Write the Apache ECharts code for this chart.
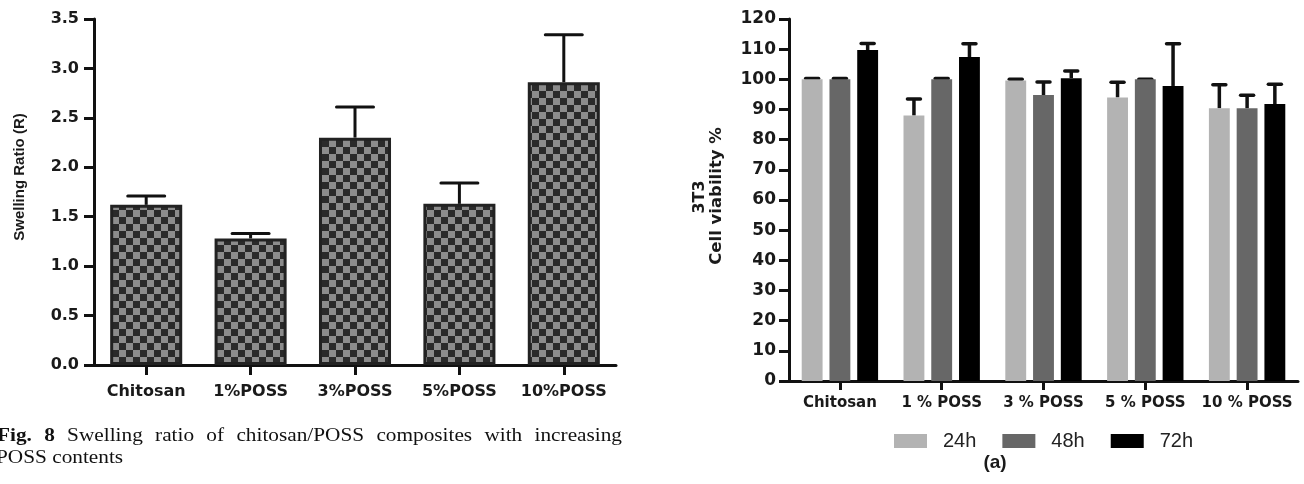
<!DOCTYPE html>
<html><head><meta charset="utf-8">
<script src="https://cdn.jsdelivr.net/npm/echarts@6/dist/echarts.min.js"></script>
<style>html,body{margin:0;padding:0;background:#fff}#c{width:1304px;height:484px}</style>
</head><body><div id="c"></div>
<script>
// ---- Left chart: swelling ratio ----
const swellCategories = ['Chitosan', '1%POSS', '3%POSS', '5%POSS', '10%POSS'];
const swellValues = [1.62, 1.28, 2.30, 1.63, 2.86];
const swellErrors = [0.09, 0.05, 0.31, 0.21, 0.48];
const swellTicks = ['0.0', '0.5', '1.0', '1.5', '2.0', '2.5', '3.0', '3.5'];

// ---- Right chart: 3T3 cell viability ----
const viabCategories = ['Chitosan', '1 % POSS', '3 % POSS', '5 % POSS', '10 % POSS'];
const viabSeriesNames = ['24h', '48h', '72h'];
const viab24 = [100, 88.0, 99.6, 94.0, 90.4];
const viab48 = [100, 100, 94.8, 100, 90.4];
const viab72 = [109.7, 107.4, 100.4, 97.8, 91.8];
const err24 = [0.3, 5.5, 0.4, 5.0, 7.8];
const err48 = [0.3, 0.3, 4.3, 0, 4.3];
const err72 = [2.2, 4.4, 2.4, 14.0, 6.6];
const viabTicks = ['0', '10', '20', '30', '40', '50', '60', '70', '80', '90', '100', '110', '120'];

const captionLine1 = [['Fig.', true], ['8', true], ['Swelling', false], ['ratio', false], ['of', false],
  ['chitosan/POSS', false], ['composites', false], ['with', false], ['increasing', false]];
const captionLine2 = 'POSS contents';

const viabColors = ['#b3b3b3', '#676767', '#000000'];
const INK = '#1a1a1a';
const TICKFONT = '"DejaVu Sans", sans-serif';
const SANS = '"Liberation Sans", Arial, sans-serif';
const SERIF = '"Liberation Serif", "Times New Roman", serif';

// checker pattern
const pc = document.createElement('canvas'); pc.width = 14; pc.height = 14;
const pg = pc.getContext('2d');
pg.fillStyle = '#8c8c8c'; pg.fillRect(0, 0, 14, 14);
pg.fillStyle = '#2a2a2a'; pg.fillRect(0, 0, 7, 7); pg.fillRect(7, 7, 7, 7);
const checker = { image: pc, repeat: 'repeat' };

const BARW = 0.205, BARGAP = 0.33;
function errRender(seriesIdx, capHalf, lw) {
  return function (params, api) {
    const ci = api.value(0);
    const base = api.coord([ci, api.value(1)]);
    const top = api.coord([ci, api.value(2)]);
    let x = base[0];
    if (seriesIdx >= 0) {
      const band = api.size([1, 0])[0];
      const w = band * BARW, gap = w * BARGAP;
      const total = 3 * w + 2 * gap;
      x = base[0] - total / 2 + seriesIdx * (w + gap) + w / 2;
    }
    const ch = typeof capHalf === 'function' ? capHalf(api) : capHalf;
    return { type: 'group', children: [
      { type: 'line', shape: { x1: x, y1: base[1], x2: x, y2: top[1] }, style: { stroke: '#111', lineWidth: lw } },
      { type: 'line', shape: { x1: x - ch, y1: top[1], x2: x + ch, y2: top[1] }, style: { stroke: '#111', lineWidth: lw, lineCap: 'round' } }
    ] };
  };
}

// caption layout (justified)
const mc = document.createElement('canvas').getContext('2d');
const CAP_SIZE = 19, CAP_SX = 1.12;
function capFont(b) { return (b ? 'bold ' : '') + CAP_SIZE + 'px "Liberation Serif", serif'; }
function tw(t, b) { mc.font = capFont(b); return mc.measureText(t).width * CAP_SX; }
const L1X0 = -3, L1X1 = 622;
const widths = captionLine1.map(w => tw(w[0], w[1]));
const sumW = widths.reduce((a, b) => a + b, 0);
const gapC = (L1X1 - L1X0 - sumW) / (captionLine1.length - 1);
const graphics = [];
function txt(o) {
  return { type: 'text', x: o.x, y: o.y, rotation: o.rot || 0, scaleX: o.sx || 1,
    style: { text: o.text, fontSize: o.size, fontWeight: o.weight || 'normal', fontFamily: o.family, fill: o.fill || INK,
      align: o.align || 'left', verticalAlign: 'middle' } };
}
let cx = L1X0;
captionLine1.forEach((w, i) => {
  graphics.push(txt({ x: cx, y: 436, sx: CAP_SX, text: w[0], size: CAP_SIZE, weight: w[1] ? 'bold' : 'normal', family: SERIF, fill: '#111' }));
  cx += widths[i] + gapC;
});
graphics.push(txt({ x: -4, y: 458, sx: CAP_SX, text: captionLine2, size: CAP_SIZE, family: SERIF, fill: '#111' }));
// axis titles
graphics.push(txt({ x: 20, y: 177, rot: Math.PI / 2, text: 'Swelling Ratio (R)', size: 15, weight: 'bold', family: SANS, align: 'center' }));
graphics.push(txt({ x: 700, y: 197, rot: Math.PI / 2, text: '3T3', size: 16, weight: 'bold', family: TICKFONT, align: 'center' }));
graphics.push(txt({ x: 717, y: 196, rot: Math.PI / 2, text: 'Cell viability %', size: 16.5, weight: 'bold', family: TICKFONT, align: 'center' }));
graphics.push(txt({ x: 995, y: 463, text: '(a)', size: 19, weight: 'bold', family: SANS, align: 'center' }));

const axisLine = { show: true, lineStyle: { color: '#111', width: 3 } };
const chart = echarts.init(document.getElementById('c'), null, { renderer: 'canvas' });
const viabVals = [viab24, viab48, viab72];
const viabErrs = [err24, err48, err72];

const series = [
  { type: 'bar', name: 'swell', xAxisIndex: 0, yAxisIndex: 0, data: swellValues, barWidth: '69%', z: 3,
    itemStyle: { color: checker, borderColor: '#222', borderWidth: 3 } },
  { type: 'custom', xAxisIndex: 0, yAxisIndex: 0, z: 2,
    data: swellValues.map((v, i) => [i, v, v + swellErrors[i]]), encode: { x: 0, y: [1, 2] },
    renderItem: errRender(-1, api => api.size([1, 0])[0] * 0.177, 3) }
];
viabSeriesNames.forEach((nm, s) => {
  series.push({ type: 'bar', name: nm, xAxisIndex: 1, yAxisIndex: 1, data: viabVals[s], barWidth: (BARW * 100) + '%', barGap: (BARGAP * 100) + '%', z: 3,
    itemStyle: { color: viabColors[s] } });
});
viabSeriesNames.forEach((nm, s) => {
  series.push({ type: 'custom', xAxisIndex: 1, yAxisIndex: 1, z: 2,
    data: viabVals[s].map((v, i) => [i, v, v + viabErrs[s][i]]), encode: { x: 0, y: [1, 2] },
    renderItem: errRender(s, 6.5, 3.5) });
});

chart.setOption({
  animation: false,
  backgroundColor: '#fff',
  grid: [
    { left: 94, top: 19, width: 522, height: 346 },
    { left: 789, top: 19, width: 509, height: 362 }
  ],
  xAxis: [
    { type: 'category', gridIndex: 0, data: swellCategories, axisLine,
      axisTick: { show: true, alignWithLabel: true, length: 10, lineStyle: { width: 3, color: '#111' } },
      axisLabel: { interval: 0, color: INK, fontFamily: TICKFONT, fontWeight: 'bold', fontSize: 16, margin: 19 } },
    { type: 'category', gridIndex: 1, data: viabCategories, axisLine,
      axisTick: { show: true, alignWithLabel: true, length: 9, lineStyle: { width: 3, color: '#111' } },
      axisLabel: { interval: 0, color: INK, fontFamily: TICKFONT, fontWeight: 'bold', fontSize: 15, margin: 15 } }
  ],
  yAxis: [
    { type: 'value', gridIndex: 0, min: 0, max: 3.5, interval: 0.5, axisLine, splitLine: { show: false },
      axisTick: { show: true, length: 10, lineStyle: { width: 3, color: '#111' } },
      axisLabel: { color: INK, fontFamily: TICKFONT, fontWeight: 'bold', fontSize: 16, margin: 15,
        formatter: (v) => swellTicks[Math.round(v / 0.5)] } },
    { type: 'value', gridIndex: 1, min: 0, max: 120, interval: 10, axisLine, splitLine: { show: false },
      axisTick: { show: true, length: 10, lineStyle: { width: 3, color: '#111' } },
      axisLabel: { color: INK, fontFamily: TICKFONT, fontWeight: 'bold', fontSize: 17, margin: 13,
        formatter: (v) => viabTicks[Math.round(v / 10)] } }
  ],
  legend: { data: viabSeriesNames, left: 889, top: 426, icon: 'rect', itemWidth: 33, itemHeight: 14, itemGap: 26,
    textStyle: { color: '#222', fontFamily: SANS, fontSize: 20, lineHeight: 20, padding: [0, 0, 0, 11] } },
  graphic: graphics,
  series
});
</script></body></html>
